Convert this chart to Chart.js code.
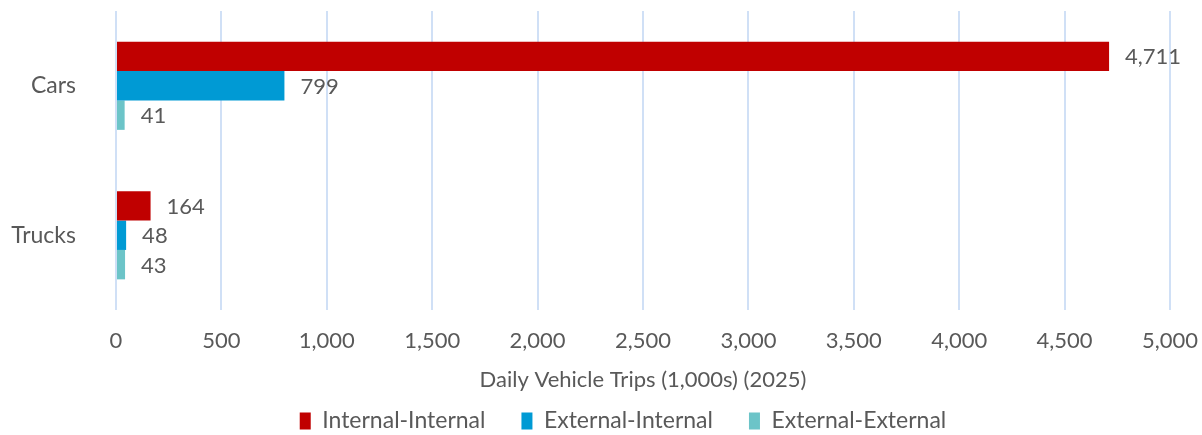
<!DOCTYPE html>
<html>
<head>
<meta charset="utf-8">
<script src="https://cdn.jsdelivr.net/npm/chart.js@4/dist/chart.umd.min.js"></script>
<style>
  html, body { margin: 0; padding: 0; background: #fff; }
  #wrap { width: 1202px; height: 435px; }
</style>
</head>
<body>
<div id="wrap"><canvas id="chart"></canvas></div>
<script>
const categories = ["Cars", "Trucks"];
const internalInternal = [4711, 164];
const externalInternal = [799, 48];
const externalExternal = [41, 43];
const seriesNames = ["Internal-Internal", "External-Internal", "External-External"];
const xTicks = [0, 500, 1000, 1500, 2000, 2500, 3000, 3500, 4000, 4500, 5000];

const FONT = "'Source Sans Pro', Lato, 'Open Sans', sans-serif";
const TEXT = "#595959";
const fmt = v => Intl.NumberFormat("en-US").format(v);

// draws the value next to the end of each bar
const valueLabels = {
    id: "valueLabels",
    afterDatasetsDraw(chart) {
        const ctx = chart.ctx;
        ctx.save();
        ctx.font = "22px " + FONT;
        ctx.fillStyle = TEXT;
        ctx.textAlign = "left";
        ctx.textBaseline = "middle";
        chart.data.datasets.forEach((ds, i) => {
            chart.getDatasetMeta(i).data.forEach((bar, j) => {
                ctx.fillText(fmt(ds.data[j]), bar.x + 16, bar.y + 1);
            });
        });
        ctx.restore();
    }
};

// legend in the original sits a bit right of the canvas centre
const legendShift = {
    id: "legendShift",
    afterLayout(chart) {
        if (chart.legend) {
            chart.legend.left += 38;
            chart.legend.right += 38;
        }
    }
};

new Chart(document.getElementById("chart"), {
    type: "bar",
    data: {
        labels: categories,
        datasets: [
            { label: seriesNames[0], data: internalInternal, backgroundColor: "#c00000" },
            { label: seriesNames[1], data: externalInternal, backgroundColor: "#009ad4" },
            { label: seriesNames[2], data: externalExternal, backgroundColor: "#6cc4c8" }
        ]
    },
    options: {
        indexAxis: "y",
        responsive: true,
        maintainAspectRatio: false,
        animation: false,
        layout: { padding: { top: 11, right: 32, left: 0, bottom: 0 } },
        categoryPercentage: 0.59,
        barPercentage: 1.0,
        scales: {
            x: {
                min: 0,
                max: 5000,
                afterBuildTicks: axis => { axis.ticks = xTicks.map(v => ({ value: v })); },
                grid: { color: "#d0e0f6", lineWidth: 2, drawTicks: false },
                border: { display: false },
                ticks: { color: TEXT, font: { family: FONT, size: 22 }, padding: 18, maxRotation: 0, callback: v => fmt(v) },
                title: { display: true, text: "Daily Vehicle Trips (1,000s) (2025)", color: TEXT, font: { family: FONT, size: 22 }, padding: { top: 0, bottom: -20 } },
                afterFit: axis => {
                    axis.height = 63.5;
                    axis.paddingLeft = 0;
                    axis.paddingRight = 0;
                }
            },
            y: {
                grid: { display: false, drawTicks: false },
                border: { display: false },
                ticks: { color: TEXT, font: { family: FONT, size: 23 }, padding: 40 },
                afterFit: axis => {
                    axis.width = 116;
                    axis.paddingTop = 0;
                    axis.paddingBottom = 0;
                }
            }
        },
        plugins: {
            legend: {
                position: "bottom",
                maxHeight: 61.5,
                labels: {
                    color: TEXT,
                    font: { family: FONT, size: 23 },
                    boxWidth: 11,
                    boxHeight: 17,
                    padding: 36
                }
            },
            tooltip: { enabled: false }
        }
    },
    plugins: [valueLabels, legendShift]
});
</script>
</body>
</html>
